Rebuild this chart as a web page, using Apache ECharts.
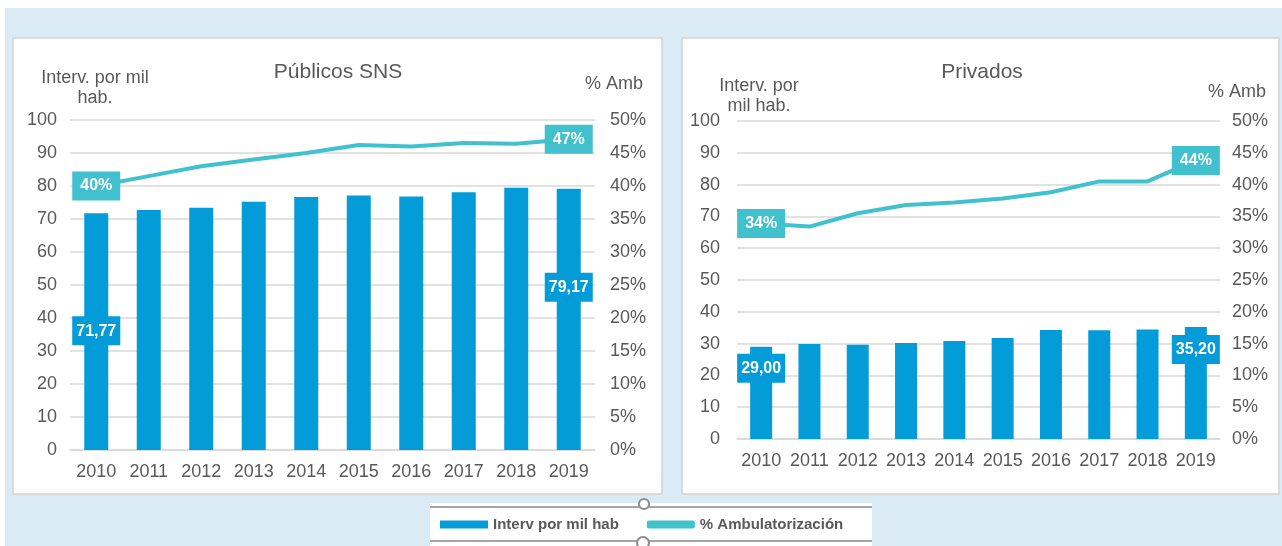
<!DOCTYPE html>
<html>
<head>
    <meta charset="utf-8">
    <title>Intervenciones y ambulatorización</title>
    <script src="https://cdn.jsdelivr.net/npm/echarts@6/dist/echarts.min.js"></script>
    <style>
        html, body { margin: 0; padding: 0; background: #fff; }
        #main { width: 1282px; height: 546px; }
    </style>
</head>
<body>
    <div id="main"></div>
    <script type="text/javascript">
        // datos
        var years = ['2010', '2011', '2012', '2013', '2014', '2015', '2016', '2017', '2018', '2019'];
        var pubInterv = [71.77, 72.7, 73.4, 75.2, 76.7, 77.1, 76.8, 78.1, 79.5, 79.17];
        var pubAmb = [40.0, 41.5, 43.0, 44.0, 45.0, 46.2, 46.0, 46.5, 46.4, 47.1];
        var privInterv = [29.00, 29.9, 29.6, 30.2, 30.8, 31.8, 34.3, 34.2, 34.4, 35.20];
        var privAmb = [33.9, 33.4, 35.5, 36.8, 37.2, 37.8, 38.8, 40.5, 40.5, 43.8];
        var leftTicks = ['0', '10', '20', '30', '40', '50', '60', '70', '80', '90', '100'];

        var BLUE = '#049cd8';
        var CYAN = '#41c0cd';
        var GREY = '#595959';
        var FONT = 'Liberation Sans, Arial, sans-serif';

        var chart = echarts.init(document.getElementById('main'), null, { renderer: 'canvas' });

        function comma(v) { return v.toFixed(2).replace('.', ','); }

        // etiquetas solo en el primer y último año
        function barData(vals, dist) {
            return vals.map(function (v, i) {
                var last = i === vals.length - 1;
                if (i !== 0 && !last) return v;
                return {
                    value: v,
                    label: {
                        show: true, position: 'insideTop', distance: last ? dist[1] : dist[0],
                        formatter: comma(v), color: '#fff', fontWeight: 'bold', fontSize: 16,
                        fontFamily: FONT, backgroundColor: BLUE, padding: [7, 4, 6, 4]
                    }
                };
            });
        }
        function lineData(vals) {
            return vals.map(function (v, i) {
                if (i !== 0 && i !== vals.length - 1) return v;
                return {
                    value: v,
                    label: {
                        show: true, position: 'inside', formatter: Math.round(v) + '%',
                        color: '#fff', fontWeight: 'bold', fontSize: 16, fontFamily: FONT,
                        backgroundColor: CYAN, padding: [7, 8, 6, 8]
                    }
                };
            });
        }

        function yLeft(grid, margin) {
            return {
                type: 'value', gridIndex: grid, min: 0, max: 100, interval: 10,
                axisLabel: { color: GREY, fontSize: 18, fontFamily: FONT, margin: margin,
                    formatter: function (v) { return leftTicks[v / 10]; } },
                axisLine: { show: false }, axisTick: { show: false },
                splitLine: { lineStyle: { color: '#d9d9d9', width: 1.5 } }
            };
        }
        function yRight(grid, margin) {
            return {
                type: 'value', gridIndex: grid, min: 0, max: 50, interval: 5, position: 'right',
                axisLabel: { color: GREY, fontSize: 18, fontFamily: FONT, margin: margin, formatter: '{value}%' },
                axisLine: { show: false }, axisTick: { show: false }, splitLine: { show: false }
            };
        }
        function xCat(grid, margin) {
            return {
                type: 'category', gridIndex: grid, data: years,
                axisLabel: { color: GREY, fontSize: 18, fontFamily: FONT, margin: margin, interval: 0, hideOverlap: false },
                axisLine: { lineStyle: { color: '#d9d9d9', width: 1.5 } },
                axisTick: { show: false }
            };
        }

        function txt(x, y, text, size, align) {
            return {
                type: 'text', x: x, y: y, silent: true,
                style: { text: text, fill: GREY, font: size + 'px ' + FONT, align: align || 'center',
                    verticalAlign: 'middle', lineHeight: 20 }
            };
        }

        var option = {
            animation: false,
            backgroundColor: '#fff',
            graphic: [
                { type: 'rect', z: -10, shape: { x: 5, y: 8, width: 1277, height: 538 }, style: { fill: '#dbebf5' } },
                { type: 'rect', z: -9, shape: { x: 13, y: 38, width: 649, height: 456 }, style: { fill: '#fff', stroke: '#d4d4d4', lineWidth: 1.5 } },
                { type: 'rect', z: -9, shape: { x: 682, y: 38, width: 597, height: 456 }, style: { fill: '#fff', stroke: '#d4d4d4', lineWidth: 1.5 } },
                { type: 'rect', z: -9, shape: { x: 430, y: 503, width: 442, height: 43 }, style: { fill: '#fff' } },
                { type: 'line', z: -8, shape: { x1: 430, y1: 507, x2: 872, y2: 507 }, style: { stroke: '#a6a6a6', lineWidth: 2 } },
                { type: 'line', z: -8, shape: { x1: 430, y1: 541, x2: 872, y2: 541 }, style: { stroke: '#a6a6a6', lineWidth: 2 } },
                { type: 'circle', z: -7, shape: { cx: 644, cy: 504, r: 5 }, style: { fill: '#fff', stroke: '#8c8c8c', lineWidth: 2 } },
                { type: 'circle', z: -7, shape: { cx: 643, cy: 543, r: 6 }, style: { fill: '#fff', stroke: '#8c8c8c', lineWidth: 2 } },
                txt(338, 72, 'Públicos SNS', 21),
                txt(982, 72, 'Privados', 21),
                txt(95, 88, 'Interv. por mil\nhab.', 18),
                txt(643, 84, '% Amb', 18, 'right'),
                txt(759, 96, 'Interv. por\nmil hab.', 18),
                txt(1266, 92, '% Amb', 18, 'right')
            ],
            legend: {
                left: 435, top: 512, itemWidth: 48, itemHeight: 8, itemGap: 28,
                textStyle: { color: GREY, fontSize: 15, fontWeight: 'bold', fontFamily: FONT },
                data: [
                    { name: 'Interv por mil hab', icon: 'rect' },
                    { name: '% Ambulatorización', icon: 'roundRect' }
                ]
            },
            grid: [
                { left: 70, right: 687, top: 120, bottom: 96 },
                { left: 737, right: 62, top: 121, bottom: 107 }
            ],
            xAxis: [xCat(0, 13), xCat(1, 13)],
            yAxis: [yLeft(0, 13), yRight(0, 15), yLeft(1, 17), yRight(1, 12)],
            series: [
                {
                    name: 'Interv por mil hab', type: 'bar', xAxisIndex: 0, yAxisIndex: 0,
                    barWidth: 24, itemStyle: { color: BLUE }, data: barData(pubInterv, [103, 84])
                },
                {
                    name: '% Ambulatorización', type: 'line', xAxisIndex: 0, yAxisIndex: 1,
                    symbol: 'circle', symbolSize: 1, itemStyle: { color: CYAN },
                    lineStyle: { color: CYAN, width: 4 }, data: lineData(pubAmb)
                },
                {
                    name: 'Interv por mil hab', type: 'bar', xAxisIndex: 1, yAxisIndex: 2,
                    barWidth: 22, itemStyle: { color: BLUE }, data: barData(privInterv, [7, 8])
                },
                {
                    name: '% Ambulatorización', type: 'line', xAxisIndex: 1, yAxisIndex: 3,
                    symbol: 'circle', symbolSize: 1, itemStyle: { color: CYAN },
                    lineStyle: { color: CYAN, width: 4 }, data: lineData(privAmb)
                }
            ]
        };

        option && chart.setOption(option);
    </script>
</body>
</html>
